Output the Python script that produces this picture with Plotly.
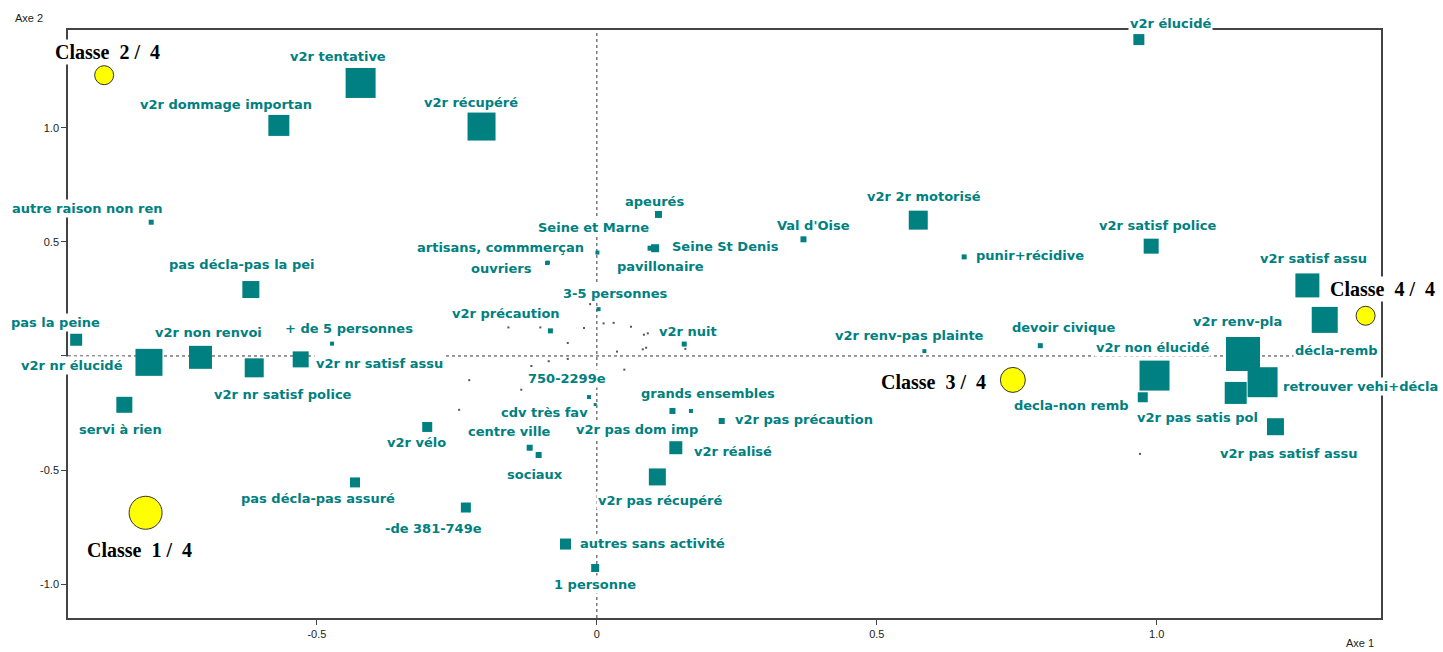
import plotly.graph_objects as go

# Modalities projected on the first factorial plane (Axe 1, Axe 2)
modalites = [
    "v2r tentative", "v2r dommage importan", "v2r récupéré", "autre raison non ren",
    "pas décla-pas la pei", "pas la peine", "v2r nr élucidé", "v2r non renvoi",
    "v2r nr satisf police", "v2r nr satisf assu", "+ de 5 personnes", "servi à rien",
    "v2r vélo", "pas décla-pas assuré", "-de 381-749e", "750-2299e",
    "cdv très fav", "grands ensembles", "v2r pas dom imp", "v2r pas précaution",
    "v2r réalisé", "v2r pas récupéré", "centre ville", "sociaux",
    "autres sans activité", "1 personne", "apeurés", "Seine et Marne",
    "Seine St Denis", "pavillonaire", "artisans, commmerçan", "ouvriers",
    "Val d'Oise", "v2r 2r motorisé", "3-5 personnes", "v2r précaution",
    "v2r nuit", "v2r renv-pas plainte", "punir+récidive", "v2r satisf police",
    "v2r satisf assu", "décla-remb", "devoir civique", "v2r non élucidé",
    "decla-non remb", "v2r renv-pla", "retrouver vehi+décla", "v2r pas satis pol",
    "v2r pas satisf assu", "v2r élucidé",
]
axe1 = [
    -0.422, -0.568, -0.206, -0.796,
    -0.618, -0.930, -0.800, -0.708,
    -0.612, -0.529, -0.473, -0.844,
    -0.303, -0.432, -0.234, -0.014,
    -0.003, 0.168, 0.135, 0.223,
    0.141, 0.108, -0.120, -0.104,
    -0.056, -0.003, 0.110, 0.001,
    0.104, 0.095, -0.0875, -0.089,
    0.369, 0.574, 0.003, -0.083,
    0.156, 0.585, 0.656, 0.990,
    1.269, 1.300, 0.792, 0.996,
    0.975, 1.154, 1.189, 1.141,
    1.212, 0.968,
]
axe2 = [
    1.196, 1.010, 1.005, 0.586,
    0.291, 0.071, -0.028, -0.006,
    -0.052, -0.015, 0.054, -0.214,
    -0.311, -0.554, -0.664, -0.180,
    -0.213, -0.241, -0.241, -0.285,
    -0.402, -0.530, -0.402, -0.434,
    -0.824, -0.929, 0.620, 0.453,
    0.472, 0.472, 0.409, 0.407,
    0.511, 0.595, 0.205, 0.110,
    0.052, 0.021, 0.434, 0.481,
    0.309, 0.158, 0.045, -0.086,
    -0.181, 0.009, -0.115, -0.162,
    -0.310, 1.386,
]

# Class centres
classes = ["1", "2", "3", "4"]
classe_axe1 = [-0.806, -0.880, 0.743, 1.373]
classe_axe2 = [-0.687, 1.230, -0.105, 0.176]

# Individuals (small dots)
indiv_axe1 = [-0.158, -0.101, -0.023, 0.012, 0.030, 0.061, 0.091, 0.084, -0.052, 0.036,
              0.088, 0.082, 0.158, -0.086, -0.052, -0.117, 0.049, -0.228, -0.135, -0.246,
              -0.012, -0.111, 0.970]
indiv_axe2 = [0.125, 0.125, 0.122, 0.143, 0.145, 0.128, 0.099, 0.093, 0.057, 0.019,
              0.036, 0.029, 0.031, -0.023, -0.013, -0.044, -0.060, -0.106, -0.148, -0.236,
              0.227, -0.486, -0.429]

# Marker sizes (px)
square_px = [
    30, 21, 28, 5, 17, 12, 27, 23, 19, 16, 4, 16, 10, 10, 10, 4, 3, 4, 6, 6,
    13, 17, 6, 6, 11, 8, 7, 4, 8, 5, 4, 4, 6, 19, 4, 5, 5, 4, 5, 15,
    24, 26, 5, 30, 10, 34, 30, 22, 17, 11,
]
classe_px = [33, 19, 25, 19]

# Label offsets from their point (px, right / down)
label_shift = [
    (-23, -26), (-53, -21), (-11, -24), (-64, -14), (-9, -25), (-21, -17), (-77, 3), (8, -25),
    (29, 27), (79, 4), (17, -15), (-4, 25), (-11, 16), (-37, 16), (-32, 21), (-22, -19),
    (-51, 8), (17, -17), (-35, 19), (82, -2), (57, 4), (3, 24), (-20, -16), (-4, 19),
    (87, -1), (0, 16), (-4, -13), (-4, -25), (70, -2), (10, 18), (-47, -15), (-46, 5),
    (10, -14), (6, -24), (17, -16), (-44, -17), (4, -13), (-15, -16), (66, -1), (6, -21),
    (6, -27), (12, 31), (24, -18), (-2, -28), (-71, 8), (-5, -32), (98, 4), (-38, 25),
    (13, 27), (32, -16),
]
classe_shift = [(-6, 37), (3, -23), (-79, 2), (17, -27)]

TEAL = "#008080"
X_RANGE = [-0.9446, 1.4005]
Y_RANGE = [-1.148, 1.428]

fig = go.Figure()

fig.add_trace(go.Scatter(
    x=indiv_axe1, y=indiv_axe2, mode="markers",
    marker=dict(symbol="square", size=2, color="#555555", opacity=1, line=dict(width=0)),
    hoverinfo="skip", showlegend=False,
))
fig.add_trace(go.Scatter(
    x=axe1, y=axe2, mode="markers", text=modalites,
    marker=dict(symbol="square", size=square_px, color=TEAL, opacity=1, line=dict(width=0)),
    hoverinfo="text", showlegend=False, cliponaxis=False,
))
fig.add_trace(go.Scatter(
    x=classe_axe1, y=classe_axe2, mode="markers",
    marker=dict(symbol="circle", size=classe_px, color="#FFFF00", opacity=1,
                line=dict(width=1, color="#333333")),
    hoverinfo="skip", showlegend=False, cliponaxis=False,
))

annotations = []
for name, x, y, (dx, dy) in zip(modalites, axe1, axe2, label_shift):
    annotations.append(dict(
        x=x, y=y, xref="x", yref="y", text=name, showarrow=False,
        xshift=dx, yshift=-dy, xanchor="center", yanchor="middle",
        bgcolor="white", borderpad=1,
        font=dict(family="DejaVu Sans", size=13, color=TEAL, weight="bold"),
    ))

nb = "\u00a0"
for c, x, y, (dx, dy) in zip(classes, classe_axe1, classe_axe2, classe_shift):
    annotations.append(dict(
        x=x, y=y, xref="x", yref="y",
        text=f"Classe{nb}{nb}{c}{nb}/{nb}{nb}{len(classes)}", showarrow=False,
        xshift=dx, yshift=-dy, xanchor="center", yanchor="middle",
        bgcolor="white", borderpad=1,
        font=dict(family="Liberation Serif", size=20, color="black", weight="bold"),
    ))

annotations.append(dict(
    x=13, y=652 - 18, xref="paper", yref="paper", text="Axe 2", showarrow=False,
    xanchor="left", yanchor="middle",
    font=dict(family="Liberation Sans", size=11, color="#222222"),
))
annotations.append(dict(
    x=1360, y=652 - 645, xref="paper", yref="paper", text="Axe 1", showarrow=False,
    xanchor="center", yanchor="middle",
    font=dict(family="Liberation Sans", size=11, color="#222222"),
))

# Convert pixel placements of the axis names to paper fractions
ML, MR, MT, MB = 68, 62, 30, 32
W, H = 1443, 652
pw, ph = W - ML - MR, H - MT - MB
for a in annotations[-2:]:
    a["x"] = (a["x"] - ML) / pw
    a["y"] = (a["y"] - MB) / ph

axis_common = dict(
    showgrid=False, zeroline=False, showline=True, linecolor="#444444", linewidth=1.5,
    mirror=True, ticks="outside", ticklen=5, tickwidth=1, tickcolor="#444444",
    tickfont=dict(family="Liberation Sans", size=11, color="#222222"),
)

fig.update_layout(
    width=W, height=H,
    margin=dict(l=ML, r=MR, t=MT, b=MB),
    paper_bgcolor="white", plot_bgcolor="white",
    xaxis=dict(range=X_RANGE, tickvals=[-0.5, 0, 0.5, 1.0],
               ticktext=["-0.5", "0", "0.5", "1.0"], **axis_common),
    yaxis=dict(range=Y_RANGE, tickvals=[-1.0, -0.5, 0, 0.5, 1.0],
               ticktext=["-1.0", "-0.5", "", "0.5", "1.0"], **axis_common),
    shapes=[
        dict(type="line", xref="x", yref="y", x0=0, x1=0, y0=Y_RANGE[0], y1=Y_RANGE[1],
             line=dict(color="#333333", width=1, dash="3px,3px"), layer="below"),
        dict(type="line", xref="x", yref="y", x0=X_RANGE[0], x1=X_RANGE[1], y0=0, y1=0,
             line=dict(color="#333333", width=1, dash="3px,3px"), layer="below"),
    ],
    annotations=annotations,
    hovermode="closest",
)

fig.write_html("out.html")
